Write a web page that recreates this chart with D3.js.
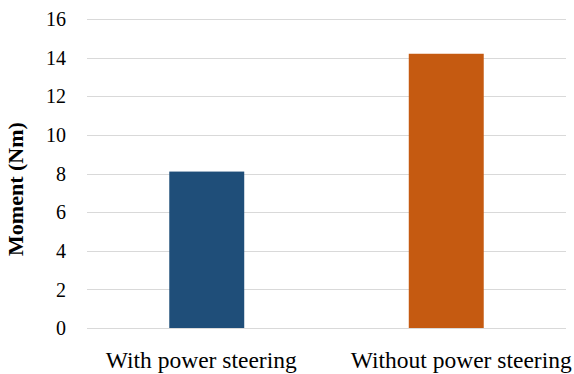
<!DOCTYPE html>
<html><head><meta charset="utf-8">
<script src="https://cdn.jsdelivr.net/npm/d3@7"></script>
<style>body{margin:0;background:#fff}svg{display:block}</style>
</head><body>
<svg id="c" width="574" height="374"></svg>
<script>
const categories = ["With power steering", "Without power steering"];
const values = [8.1, 14.2];
const colors = ["#1f4e79", "#c55a11"];
const yTicks = [0, 2, 4, 6, 8, 10, 12, 14, 16];

const svg = d3.select("#c");
const m = {left: 87, right: 8, top: 19, bottom: 46};
const W = 574, H = 374;
const font = "'Liberation Serif', 'Times New Roman', serif";
const x = d3.scaleBand().domain(categories).range([m.left, W - m.right]).paddingInner(0.687).paddingOuter(0.3435);
const y = d3.scaleLinear().domain([0, 16]).range([H - m.bottom, m.top]);

svg.append("g").selectAll("line").data(yTicks).join("line")
  .attr("x1", m.left).attr("x2", W - m.right)
  .attr("y1", d => Math.round(y(d)) + 0.5).attr("y2", d => Math.round(y(d)) + 0.5)
  .attr("stroke", "#d9d9d9").attr("stroke-width", 1);

svg.append("g").selectAll("text").data(yTicks).join("text")
  .attr("x", 66).attr("y", d => y(d)).attr("dy", "0.36em")
  .attr("text-anchor", "end")
  .attr("font-family", font).attr("font-size", 20)
  .attr("fill", "#000").text(d => d);

svg.append("g").selectAll("rect").data(values).join("rect")
  .attr("x", (d, i) => x(categories[i])).attr("width", x.bandwidth())
  .attr("y", d => y(d)).attr("height", d => y(0) - y(d))
  .attr("fill", (d, i) => colors[i]);

svg.append("g").selectAll("text").data(categories).join("text")
  .attr("x", (d, i) => x(d) + x.bandwidth() / 2 + (i === 0 ? -5.5 : 15))
  .attr("y", 368)
  .attr("text-anchor", "middle")
  .attr("font-family", font).attr("font-size", 23.5)
  .attr("fill", "#000").text(d => d);

svg.append("text")
  .attr("transform", `translate(23,189) rotate(-90)`)
  .attr("text-anchor", "middle")
  .attr("font-family", font).attr("font-size", 22)
  .attr("font-weight", "bold").attr("fill", "#000").text("Moment (Nm)");
</script>
</body></html>
